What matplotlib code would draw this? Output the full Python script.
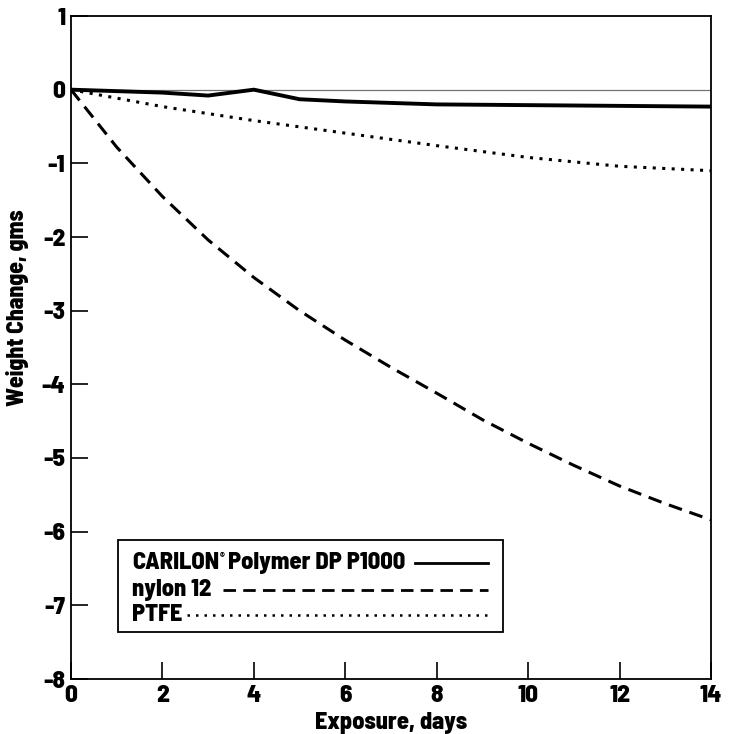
"""Weight change vs exposure time (CARILON / nylon 12 / PTFE)."""
import matplotlib
matplotlib.use("Agg")
import matplotlib.pyplot as plt
from matplotlib.lines import Line2D
from matplotlib.patches import Rectangle

plt.rcParams["font.family"] = ["Barlow Semi Condensed", "DejaVu Sans"]
plt.rcParams["axes.unicode_minus"] = False
W = 800  # heavy condensed look

# --- data ---
carilon_days = [0, 1, 2, 3, 4, 5, 6, 7, 8, 10, 12, 14]
carilon_wt = [0.0, -0.02, -0.04, -0.08, 0.0, -0.13, -0.16, -0.18, -0.20, -0.21, -0.22, -0.23]

nylon_days = [0, 1, 2, 3, 4, 5, 6, 7, 8, 9, 10, 11, 12, 13, 14]
nylon_wt = [0.0, -0.78, -1.45, -2.04, -2.55, -3.00, -3.40, -3.77, -4.12,
            -4.48, -4.80, -5.10, -5.38, -5.62, -5.84]

ptfe_days = [0, 2, 4, 6, 8, 10, 12, 14]
ptfe_wt = [0.0, -0.23, -0.42, -0.59, -0.76, -0.92, -1.04, -1.10]

x_ticks = [0, 2, 4, 6, 8, 10, 12, 14]
y_ticks = [1, 0, -1, -2, -3, -4, -5, -6, -7, -8]
labels = ["CARILON", "nylon 12", "PTFE"]

fig = plt.figure(figsize=(7.35, 7.34), dpi=100)
ax = fig.add_axes([71 / 735, 1 - 679 / 734, 640 / 735, 663 / 734])

ax.axhline(0, color="0.45", lw=0.9, zorder=1)
ax.plot(carilon_days, carilon_wt, color="k", lw=2.8, solid_joinstyle="round")
ax.plot(nylon_days, nylon_wt, color="k", lw=2.2, dashes=(4.5, 2.6))
ax.plot(ptfe_days, ptfe_wt, color="k", lw=2.2, dashes=(1.0, 2.1))

ax.set_xlim(0, 14)
ax.set_ylim(-8, 1)
ax.set_xticks(x_ticks)
ax.set_yticks(y_ticks)
ax.tick_params(direction="in", length=12, width=1.2, labelsize=18)
ax.tick_params(axis="x", pad=4.5)
ax.tick_params(axis="y", pad=4)
for lab in ax.get_xticklabels() + ax.get_yticklabels():
    lab.set_fontweight(W)
for s in ax.spines.values():
    s.set_linewidth(1.3)

ax.set_xlabel("Exposure, days", fontsize=17.5, fontweight=W)
ax.xaxis.set_label_coords(0.5, -0.05)
ax.set_ylabel("Weight Change, gms", fontsize=17, fontweight=W)
ax.yaxis.set_label_coords(-0.066, 0.56)

# --- legend box drawn by hand: text followed by a long line sample ---
tr = ax.transAxes
ax.add_patch(Rectangle((0.073, 0.071), 0.602, 0.139, transform=tr,
                       fill=False, lw=1.3, ec="k", zorder=3))
fs = 17.5
row_y = [0.175, 0.1345, 0.097]
t0 = ax.text(0.095, row_y[0], labels[0], transform=tr, fontsize=fs,
             fontweight=W, va="center", ha="left")
fig.canvas.draw()
r = fig.canvas.get_renderer()
bb = t0.get_window_extent(r).transformed(tr.inverted())
t1 = ax.text(bb.x1 + 0.001, row_y[0] + 0.011, "®", transform=tr, fontsize=8,
             fontweight="bold", va="center", ha="left")
bb1 = t1.get_window_extent(r).transformed(tr.inverted())
ax.text(bb1.x1 + 0.006, row_y[0], "Polymer DP P1000", transform=tr,
        fontsize=fs, fontweight=W, va="center", ha="left")
ax.text(0.095, row_y[1], labels[1], transform=tr, fontsize=fs,
        fontweight=W, va="center", ha="left")
ax.text(0.095, row_y[2], labels[2], transform=tr, fontsize=fs,
        fontweight=W, va="center", ha="left")

ax.add_line(Line2D([0.5375, 0.652], [row_y[0]] * 2, transform=tr, color="k", lw=2.0))
ax.add_line(Line2D([0.2375, 0.652], [row_y[1]] * 2, transform=tr, color="k",
                   lw=2.0, dashes=(4.5, 2.6)))
ax.add_line(Line2D([0.181, 0.652], [row_y[2]] * 2, transform=tr, color="k",
                   lw=1.8, dashes=(1.0, 2.4)))

fig.savefig("out.png", dpi=100)
